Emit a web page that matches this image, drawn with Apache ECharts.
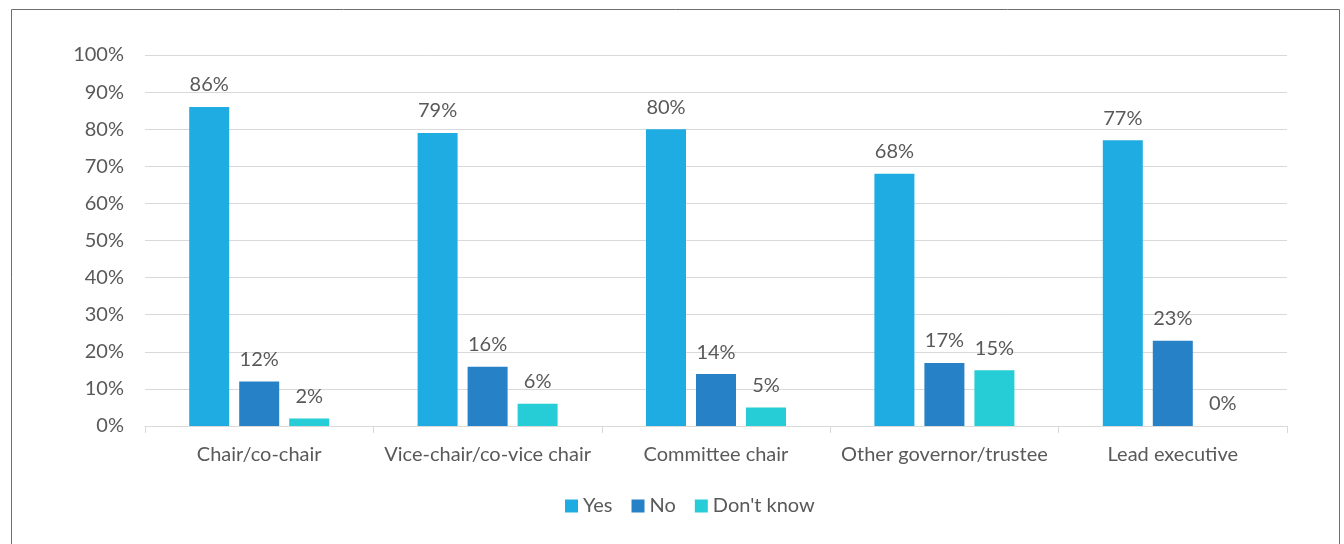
<!DOCTYPE html>
<html>
<head>
<meta charset="utf-8">
<script src="https://cdn.jsdelivr.net/npm/echarts@6/dist/echarts.min.js"></script>
<style>
  html, body { margin: 0; padding: 0; background: #ffffff; }
  #chart { width: 1344px; height: 544px; }
</style>
</head>
<body>
<div id="chart"></div>
<script>
// Role categories along the x axis
const categories = ['Chair/co-chair', 'Vice-chair/co-vice chair', 'Committee chair', 'Other governor/trustee', 'Lead executive'];
// Percentage of respondents per answer
const yesValues = [86, 79, 80, 68, 77];
const noValues = [12, 16, 14, 17, 23];
const dontKnowValues = [2, 6, 5, 15, 0];
const seriesNames = ['Yes', 'No', "Don't know"];
const seriesColors = ['#1FACE3', '#2681C6', '#26CDD6'];

const FONT = 'Lato, "Noto Sans", sans-serif';
const TEXT = '#595959';
const SIZE = 20;

const chart = echarts.init(document.getElementById('chart'));

function makeSeries(name, data, color) {
  return {
    name: name,
    type: 'bar',
    data: data,
    barWidth: 40,
    barGap: '25%',
    itemStyle: { color: color },
    label: {
      show: true,
      position: 'top',
      distance: 12,
      formatter: '{c}%',
      color: TEXT,
      fontFamily: FONT,
      fontSize: SIZE
    }
  };
}

chart.setOption({
  animation: false,
  textStyle: { fontFamily: FONT },
  graphic: [{
    type: 'rect',
    shape: { x: 11.5, y: 9.5, width: 1328, height: 600 },
    style: { fill: 'none', stroke: '#6e6e6e', lineWidth: 1 },
    silent: true
  }],
  legend: {
    data: seriesNames,
    bottom: 23,
    left: 560,
    itemWidth: 13,
    itemHeight: 13,
    itemGap: 19,
    icon: 'rect',
    textStyle: { color: TEXT, fontFamily: FONT, fontSize: SIZE }
  },
  grid: { left: 145, right: 57, top: 55, bottom: 118, containLabel: false },
  xAxis: {
    type: 'category',
    data: categories,
    axisLine: { lineStyle: { color: '#d9d9d9', width: 1 } },
    axisTick: { show: true, length: 7, lineStyle: { color: '#d9d9d9' } },
    axisLabel: { color: TEXT, fontFamily: FONT, fontSize: SIZE, margin: 19, interval: 0 }
  },
  yAxis: {
    type: 'value',
    min: 0,
    max: 100,
    interval: 10,
    axisLine: { show: false },
    axisTick: { show: false },
    splitLine: { lineStyle: { color: '#d9d9d9', width: 1 } },
    axisLabel: { color: TEXT, fontFamily: FONT, fontSize: SIZE, margin: 21, formatter: '{value}%' }
  },
  series: [
    makeSeries(seriesNames[0], yesValues, seriesColors[0]),
    makeSeries(seriesNames[1], noValues, seriesColors[1]),
    makeSeries(seriesNames[2], dontKnowValues, seriesColors[2])
  ]
});
</script>
</body>
</html>
